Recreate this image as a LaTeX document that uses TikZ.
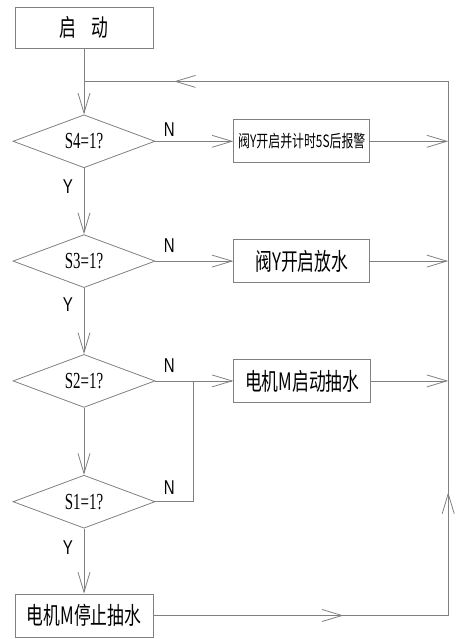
\documentclass[tikz,border=0pt]{standalone}
\usepackage{fontspec}
\newfontfamily\cjkfont[FakeStretch=0.7]{Noto Sans CJK SC}
\newfontfamily\condserif[FakeStretch=0.65]{Liberation Serif}
\newfontfamily\condsans[FakeStretch=0.75]{Liberation Sans}
\usetikzlibrary{shapes.geometric, arrows.meta, positioning, calc, decorations.markings}

\definecolor{linegray}{RGB}{128,128,128}

\tikzset{
    flowline/.style={draw=linegray, line width=0.8pt},
    arr/.style={flowline, -{Straight Barb[length=20pt, width=12pt]}},
    procbox/.style={draw=linegray, line width=0.8pt, inner sep=0,
        minimum width=136pt, minimum height=43pt,
        font=\cjkfont\fontsize{24}{24}\selectfont},
    decision/.style={draw=linegray, line width=0.8pt, diamond, aspect=2.7,
        inner sep=0, minimum width=142pt, minimum height=53pt,
        font=\condserif\fontsize{23}{23}\selectfont},
    yn/.style={font=\condsans\fontsize{20}{20}\selectfont},
    midarrow/.style={postaction={decorate, decoration={markings,
        mark=at position #1 with {\arrow{Straight Barb[length=20pt, width=12pt]}}}}}
}

\begin{document}
\begin{tikzpicture}[node distance=66pt]

\useasboundingbox (0,0) rectangle (464pt,-639pt);

\node[procbox,
    minimum width=138pt,
    minimum height=41pt
] (start) at (84pt,-27.5pt) {启\hspace{15pt}动};

\node[decision,
    below=of start] (s4) {S4=1?};

\node[decision,
    below=of s4] (s3) {S3=1?};

\node[decision,
    below=of s3] (s2) {S2=1?};

\node[decision,
    below=67pt of s2] (s1) {S1=1?};

\node[procbox,
    below=65pt of s1,
    minimum width=138pt
] (stop) {电机M停止抽水};

\node[procbox,
    right=78pt of s4,
    font=\cjkfont\fontsize{17}{17}\selectfont
] (valvealarm) {阀Y开启并计时5S后报警};

\node[procbox,
    right=78pt of s3] (valve) {阀Y开启放水};

\node[procbox,
    right=78pt of s2,
    minimum width=137pt] (pump) {电机M启动抽水};

% Loop points
\coordinate (join) at ($(start.south)!0.5!(s4.north)$);
\coordinate[right=78pt of valvealarm] (r1);
\coordinate[right=78pt of valve] (r2);
\coordinate[right=77pt of pump] (r3);
\coordinate (cbot) at (r1 |- stop);
\coordinate (ctop) at (r1 |- join);
\coordinate (branch) at ($(s2.east)+(38pt,0)$);

% Arrows
\draw[arr] (start) -- (s4);
\draw[arr] (s4) -- node[yn, pos=0, xshift=-16pt, yshift=-18pt] {Y} (s3);
\draw[arr] (s3) -- node[yn, pos=0, xshift=-16pt, yshift=-17pt] {Y} (s2);
\draw[arr] (s2) -- (s1);
\draw[arr] (s1) -- node[yn, pos=0, xshift=-16pt, yshift=-19pt] {Y} (stop);

\draw[arr] (s4.east) -- node[yn, pos=0, xshift=14pt, yshift=12pt] {N} (valvealarm);
\draw[arr] (s3.east) -- node[yn, pos=0, xshift=14pt, yshift=15pt] {N} (valve);
\draw[arr] (s2.east) -- node[yn, pos=0, xshift=14pt, yshift=15pt] {N} (pump);
\draw[flowline] (s1.east) node[yn, xshift=14pt, yshift=14pt] {N} -| (branch);

\draw[arr] (valvealarm) -- (r1);
\draw[arr] (valve) -- (r2);
\draw[arr] (pump) -- (r3);

% Return loop
\draw[flowline, midarrow=190pt, midarrow=418pt, midarrow=1103pt]
    (stop.east) -- (cbot) -- (ctop) -- (join);

\end{tikzpicture}
\end{document}
